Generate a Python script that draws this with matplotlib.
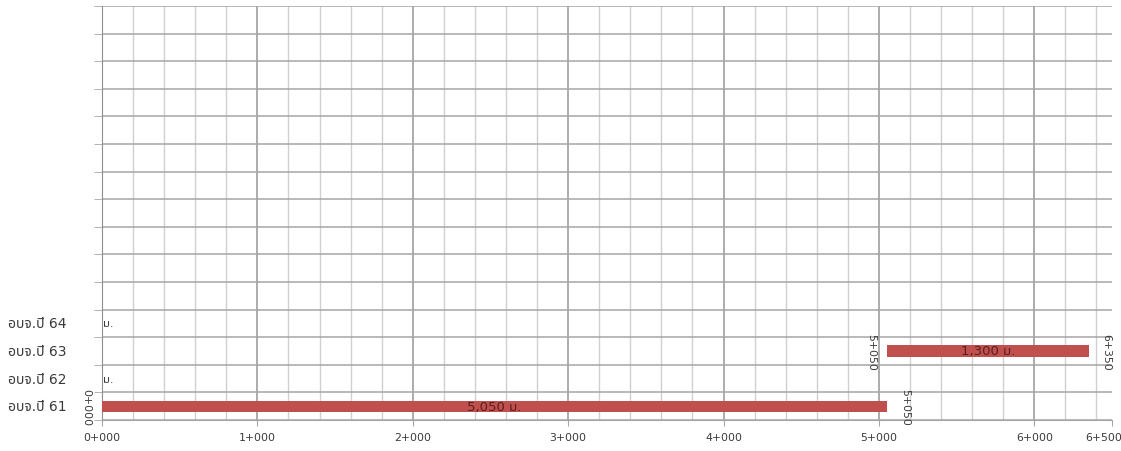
import matplotlib
matplotlib.use("Agg")
import matplotlib.pyplot as plt
from matplotlib.ticker import MultipleLocator
from matplotlib.transforms import blended_transform_factory, ScaledTranslation

# ---------- data ----------
categories = ["อบจ.ปี 61", "อบจ.ปี 62", "อบจ.ปี 63", "อบจ.ปี 64"] + [""] * 11
starts  = [0, 0, 5050, 0]        # chainage start (m)
lengths = [5050, 0, 1300, 0]     # length (m)
xtick_vals = [0, 1000, 2000, 3000, 4000, 5000, 6000, 6500]

def chainage(v):
    return f"{v // 1000}+{v % 1000:03d}"

plt.rcParams["font.family"] = ["DejaVu Sans", "Noto Sans Thai", "Sarabun", "Athiti"]
txt_c = "#3a3a3a"

fig = plt.figure(figsize=(11.21, 4.52), dpi=100)
ax = fig.add_axes([102 / 1121, 31 / 452, 1010 / 1121, 414 / 452])

n = len(categories)
ypos = list(range(n))
bar_c = "#c0504d"

ax.barh(ypos[:len(lengths)], lengths, left=starts, height=0.4,
        color=bar_c, zorder=3)

for y, s, L in zip(ypos, starts, lengths):
    if L > 0:
        ax.text(s + L / 2, y, f"{L:,} ม.", ha="center", va="center",
                fontsize=9.5, color="#5a1e1e", zorder=4)
        ax.annotate(chainage(s), (s, y), xytext=(-11, 0),
                    textcoords="offset points", rotation=270,
                    ha="center", va="center", fontsize=7.8, color=txt_c)
        ax.annotate(chainage(s + L), (s + L, y), xytext=(13, 0),
                    textcoords="offset points", rotation=270,
                    ha="center", va="center", fontsize=7.8, color=txt_c)
    else:
        ax.annotate("ม.", (s, y), xytext=(1, 0), textcoords="offset points",
                    ha="left", va="center", fontsize=8, color=txt_c)

# category labels, left side of the figure
tr = blended_transform_factory(fig.transFigure, ax.transData)
for y, c in zip(ypos, categories):
    ax.text(8 / 1121, y, c, transform=tr, ha="left", va="center",
            fontsize=10, color=txt_c)

ax.set_xlim(0, 6500)
ax.set_ylim(-0.5, n - 0.5)

ax.set_xticks(xtick_vals)
ax.set_xticklabels([chainage(v) for v in xtick_vals], fontsize=7.8, color=txt_c)
ax.xaxis.set_minor_locator(MultipleLocator(200))
ax.set_yticks([])
ax.set_yticks([i - 0.5 for i in range(n + 1)], minor=True)

ax.grid(True, which="major", axis="x", color="#a6a6a6", linewidth=1.3, zorder=0)
ax.grid(True, which="minor", axis="x", color="#d0d0d0", linewidth=1.0, zorder=0)
ax.grid(True, which="minor", axis="y", color="#a6a6a6", linewidth=1.1, zorder=0)
ax.xaxis.get_major_ticks()[-1].gridline.set_visible(False)
ax.set_axisbelow(True)

ax.tick_params(axis="x", which="major", length=4, color="#a6a6a6", pad=5)
ax.tick_params(axis="x", which="minor", length=0)
ax.tick_params(axis="y", which="minor", length=6, color="#a6a6a6")

# last tick label sits close to the figure edge
last = ax.xaxis.get_major_ticks()[-1].label1
last.set_transform(last.get_transform() + ScaledTranslation(-0.08, 0, fig.dpi_scale_trans))

for side in ["top", "right"]:
    ax.spines[side].set_visible(False)
ax.spines["left"].set_color("#909090")
ax.spines["bottom"].set_color("#a6a6a6")

fig.savefig("out.png", dpi=100)
